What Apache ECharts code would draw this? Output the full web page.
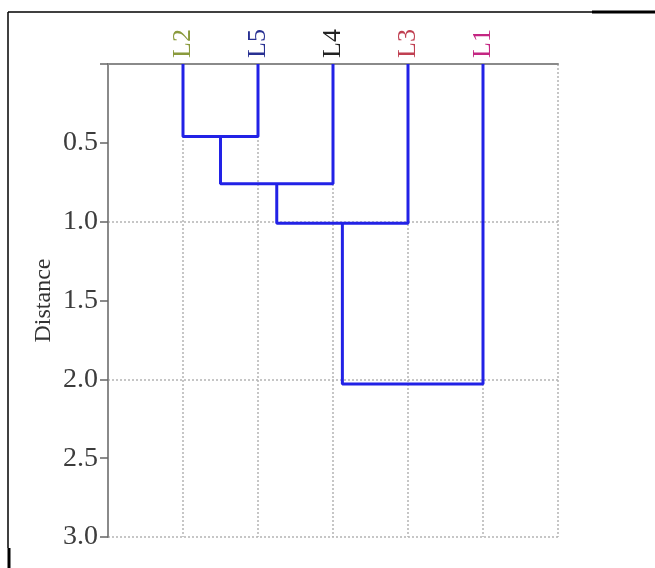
<!DOCTYPE html>
<html>
<head>
<meta charset="utf-8">
<script src="https://cdn.jsdelivr.net/npm/echarts@6/dist/echarts.min.js"></script>
<style>
 html, body { margin: 0; padding: 0; background: #fff; }
 #chart { width: 655px; height: 568px; }
</style>
</head>
<body>
<div id="chart"></div>
<script>
// leaves in the order drawn along the top axis
const leaves = ['L2', 'L5', 'L4', 'L3', 'L1']
const leafColors = ['#8a9a3c', '#283092', '#222222', '#c04052', '#c42682']
// each merge joins two nodes (0..4 = leaves, 5.. = earlier merges) at a distance
const mergePairs = [[0, 1], [5, 2], [6, 3], [7, 4]]
const mergeHeights = [0.46, 0.76, 1.01, 2.03]
const distTicks = [0.5, 1.0, 1.5, 2.0, 2.5, 3.0]

// node positions: leaf i sits at x = i + 1, a merge sits midway between its children
const nodeX = leaves.map((_, i) => i + 1)
const nodeH = leaves.map(() => 0)
mergePairs.forEach(([a, b], k) => {
 nodeX.push((nodeX[a] + nodeX[b]) / 2)
 nodeH.push(mergeHeights[k])
})

const linkSeries = mergePairs.map(([a, b], k) => ({
 type: 'line',
 xAxisIndex: 0,
 yAxisIndex: 0,
 symbol: 'none',
 silent: true,
 lineStyle: { color: '#2222e6', width: 3 },
 data: [
  [nodeX[a], nodeH[a]],
  [nodeX[a], mergeHeights[k]],
  [nodeX[b], mergeHeights[k]],
  [nodeX[b], nodeH[b]]
 ]
}))

const rich = {}
leaves.forEach((name, i) => {
 rich['c' + i] = { color: leafColors[i], fontFamily: 'Liberation Serif', fontSize: 26 }
})

const myChart = echarts.init(document.getElementById('chart'))
myChart.setOption({
 animation: false,
 backgroundColor: '#fff',
 grid: { left: 108, right: 97, top: 64, bottom: 31 },
 xAxis: [{
  type: 'value',
  position: 'top',
  min: 0,
  max: 6,
  interval: 1,
  axisLine: { show: true, lineStyle: { color: '#8a8a8a', width: 2 } },
  axisTick: { show: false },
  axisLabel: {
   rotate: 90,
   margin: 6,
   formatter: v => (leaves[v - 1] ? '{c' + (v - 1) + '|' + leaves[v - 1] + '}' : ''),
   rich: rich
  },
  splitLine: { show: true, lineStyle: { color: '#b4b4b4', type: [2, 2], width: 1.5 } }
 }],
 yAxis: [{
  type: 'value',
  inverse: true,
  min: 0,
  max: 3,
  interval: 0.5,
  name: 'Distance',
  nameLocation: 'middle',
  nameGap: 52,
  nameMoveOverlap: false,
  nameRotate: 90,
  nameTextStyle: { fontFamily: 'Liberation Serif', fontSize: 24, color: '#333' },
  axisLine: { show: true, lineStyle: { color: '#8a8a8a', width: 2 } },
  axisTick: { show: true, length: 8, lineStyle: { color: '#666', width: 1.5 } },
  axisLabel: {
   margin: 10,
   fontFamily: 'Liberation Serif',
   fontSize: 28,
   color: '#3c3c3c',
   formatter: v => (distTicks.includes(v) ? v.toFixed(1) : '')
  },
  splitLine: { show: false }
 }, {
  type: 'value',
  inverse: true,
  min: 0,
  max: 3,
  interval: 1,
  position: 'left',
  axisLine: { show: false },
  axisTick: { show: false },
  axisLabel: { show: false },
  splitLine: { show: true, lineStyle: { color: '#b4b4b4', type: [2, 2], width: 1.5 } }
 }],
 graphic: [
  { type: 'line', shape: { x1: 8, y1: 12, x2: 592, y2: 12 }, style: { stroke: '#000', lineWidth: 1.5 } },
  { type: 'line', shape: { x1: 592, y1: 12, x2: 655, y2: 12 }, style: { stroke: '#000', lineWidth: 3 } },
  { type: 'line', shape: { x1: 8, y1: 12, x2: 8, y2: 548 }, style: { stroke: '#000', lineWidth: 1.5 } },
  { type: 'line', shape: { x1: 9, y1: 548, x2: 9, y2: 568 }, style: { stroke: '#000', lineWidth: 3 } }
 ],
 series: linkSeries
})
</script>
</body>
</html>
